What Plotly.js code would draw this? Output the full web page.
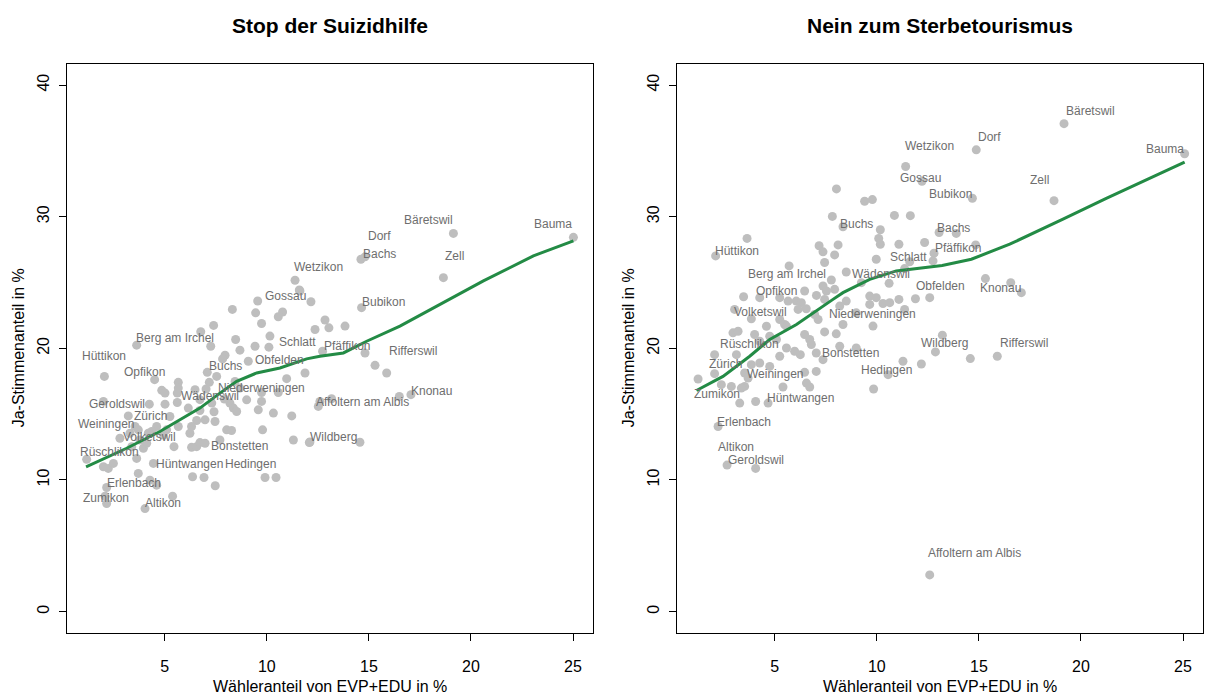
<!DOCTYPE html>
<html><head><meta charset="utf-8">
<script src="https://cdn.plot.ly/plotly-3.0.1.min.js"></script>
<style>html,body{margin:0;padding:0;background:#fff}#chart{width:1206px;height:696px}</style>
</head><body><div id="chart"></div>
<script>
const panel_titles = ["Stop der Suizidhilfe", "Nein zum Sterbetourismus"];
const x_title = "Wähleranteil von EVP+EDU in %";
const y_title = "Ja-Stimmenanteil in %";
const x_ticks = [5, 10, 15, 20, 25];
const y_ticks = [0, 10, 20, 30, 40];

// Left panel: Stop der Suizidhilfe
const left_x = [25.02,19.14,14.81,14.61,18.65,11.62,12.16,14.64,12.85,13.04,12.36,13.83,12.73,14.81,15.30,15.87,11.87,16.49,17.06,12.52,13.17,12.60,12.11,14.56,11.38,11.59,9.55,8.31,9.45,10.77,10.56,9.74,7.39,6.76,8.47,10.15,7.25,9.42,10.10,8.68,3.62,7.95,7.83,9.09,2.04,4.50,7.08,7.18,7.54,10.97,8.44,5.66,5.66,4.85,5.01,6.48,7.02,5.61,8.68,9.74,10.56,9.01,9.74,9.58,10.32,11.22,8.19,8.36,8.52,7.92,5.61,5.01,4.24,1.99,6.15,6.72,6.97,6.56,7.41,7.46,3.21,6.31,6.23,8.03,8.27,9.79,5.66,4.60,4.36,3.70,3.29,3.78,5.45,6.31,6.56,6.72,6.97,11.30,12.08,3.95,3.62,1.17,1.99,2.23,2.48,4.44,3.70,4.27,4.60,6.36,6.92,7.47,9.91,10.45,2.15,2.15,2.07,5.38,4.03,4.19,4.93,5.09,3.38,4.11,3.54,2.80,6.72,7.30,5.25,7.70];
const left_y = [28.43,28.73,26.95,26.77,25.37,24.36,23.54,23.09,22.15,21.56,21.43,21.69,19.78,19.65,18.71,18.13,18.13,16.35,16.48,15.59,16.17,15.97,12.89,12.87,25.17,24.43,23.60,22.96,22.70,22.76,22.40,21.89,21.74,21.26,20.67,20.93,20.16,20.16,20.09,19.86,20.24,19.48,19.20,19.02,17.87,17.62,18.18,17.42,17.87,17.70,17.49,17.42,16.98,16.81,16.60,16.86,16.91,16.60,16.98,16.65,16.65,16.09,15.97,15.33,15.08,14.87,15.84,15.46,15.20,16.15,15.89,15.76,15.76,15.97,15.46,15.28,14.57,14.52,15.18,14.44,14.87,14.06,13.55,13.81,13.76,13.81,14.06,14.06,13.68,13.81,13.55,13.04,12.53,12.48,12.53,12.84,12.79,13.04,12.84,12.41,11.64,11.57,11.01,10.88,11.26,11.26,10.50,9.99,9.61,10.25,10.19,9.56,10.19,10.19,9.43,8.21,8.77,8.77,7.83,13.55,13.42,13.81,12.53,12.79,14.06,13.17,16.10,15.84,14.82,13.04];
const left_names = ["Bauma","Bäretswil","Dorf","Bachs","Zell","Wetzikon","","Bubikon","","","","","Pfäffikon","","","Rifferswil","","","Knonau","Affoltern am Albis","","","Wildberg","","","","Gossau","","","","","","","","","Schlatt","","","","","Berg am Irchel","Buchs","","Obfelden","Hüttikon","Opfikon","","","Niederweningen","","","","","","","","","Wädenswil","","","","","","","","","","","","","","","Geroldswil","","","","","","","","Zürich","","","","","","","","","","","","","","","Bonstetten","","","","","","Rüschlikon","","","","Hüntwangen","","","","","","","Hedingen","","Erlenbach","Zumikon","","","Altikon","","","","","","Weiningen","Volketswil","","","",""];
const left_curve_x = [1.14,3.13,4.76,5.74,6.72,7.70,8.52,9.50,10.64,11.95,12.60,13.75,14.89,16.52,18.65,20.61,23.06,25.02];
const left_curve_y = [11.00,12.41,13.68,14.57,15.46,16.60,17.49,18.13,18.51,19.20,19.40,19.65,20.54,21.69,23.47,25.12,27.03,28.17];

// Right panel: Nein zum Sterbetourismus
const right_x = [19.17,14.87,25.08,11.41,12.21,14.68,18.68,11.64,13.05,13.89,11.08,12.34,14.84,12.80,12.75,11.61,11.36,15.32,16.56,17.08,11.89,12.59,11.36,13.21,12.87,14.58,15.90,12.18,12.59,8.02,9.40,9.78,7.82,10.86,8.34,10.17,10.09,10.17,3.64,2.10,7.17,7.36,8.10,7.93,9.97,7.44,5.70,8.50,7.77,6.46,7.36,7.53,7.93,9.24,10.60,3.47,4.26,5.24,5.65,6.05,6.30,7.04,7.44,8.50,8.18,8.99,9.65,9.97,11.08,3.03,3.85,4.59,5.24,5.48,6.14,6.54,6.95,7.12,8.34,9.81,9.65,10.30,10.63,7.44,8.01,2.95,3.20,4.01,4.26,4.75,5.08,5.57,6.46,6.71,6.79,5.57,5.97,6.25,7.03,7.36,8.18,8.99,5.24,3.12,2.05,3.85,4.26,4.75,3.52,3.69,3.52,3.36,2.38,2.87,1.24,2.05,5.40,6.46,7.03,6.55,6.71,11.28,10.55,9.84,3.28,4.06,4.67,2.22,2.66,4.06];
const right_y = [37.07,35.08,34.78,33.81,32.69,31.40,31.22,30.08,28.80,28.73,27.91,28.04,27.86,27.23,26.64,26.57,26.06,25.30,24.99,24.23,23.77,23.85,22.96,21.00,19.73,19.22,19.40,18.81,2.79,32.11,31.17,31.30,30.02,30.10,29.24,29.01,28.35,27.91,28.35,27.02,27.79,27.33,27.86,27.10,26.77,26.52,26.26,25.80,25.19,24.36,24.74,24.36,24.48,24.99,24.94,23.92,23.85,23.85,23.59,23.59,23.47,24.02,23.72,23.59,23.21,22.70,23.97,23.85,23.72,22.96,22.24,21.68,22.19,21.81,22.96,23.01,22.57,22.19,21.81,21.69,23.34,23.41,23.47,21.25,21.10,21.18,21.30,21.05,20.54,20.92,20.67,21.69,21.05,20.67,20.29,20.03,19.78,19.52,19.65,19.14,20.16,20.03,19.40,19.52,19.52,18.76,18.89,18.63,18.13,17.74,17.11,16.98,17.24,17.11,17.67,18.08,17.06,18.18,18.25,17.36,17.06,19.02,18.00,16.91,15.84,15.96,15.84,14.06,11.13,10.88];
const right_names = ["Bäretswil","Dorf","Bauma","Wetzikon","Gossau","Bubikon","Zell","","Bachs","","","","","Pfäffikon","","","","Knonau","","","Obfelden","","","Wildberg","","","Rifferswil","","Affoltern am Albis","","","","","","Buchs","","","","","Hüttikon","","","","","Schlatt","","Berg am Irchel","Wädenswil","","Opfikon","","","","","","","","","","","","","","","","","","","","Volketswil","","","","","","","","Niederweningen","","","","","","","","Rüschlikon","","","","","","","","","","","","","Bonstetten","","","","","","Zürich","","","","Weiningen","","","","","","Zumikon","","","","","","","","Hedingen","","","Hüntwangen","","Erlenbach","Altikon","Geroldswil"];
const right_curve_x = [1.16,2.46,3.77,4.75,6.06,6.87,7.85,8.34,9.65,10.95,12.26,13.20,14.63,16.51,19.12,21.24,25.08];
const right_curve_y = [16.80,17.87,19.40,20.67,21.81,22.70,23.72,24.23,25.24,25.88,26.15,26.30,26.77,27.91,29.82,31.40,34.14];

// label offsets in screen pixels from the point (style only): [right, down]
const left_label_off = {"Bauma":[-20,-13.5],"Bäretswil":[-25,-13.5],"Dorf":[14,-21],"Bachs":[18.5,-5],"Zell":[11,-21.7],"Wetzikon":[19,-24],"Gossau":[28,-4.5],"Bubikon":[21.5,-6],"Schlatt":[27.5,5.7],"Pfäffikon":[24.5,-5.6],"Rifferswil":[26,-22.3],"Knonau":[21,-3.7],"Affoltern am Albis":[44.5,-4.7],"Wildberg":[24,-5.3],"Berg am Irchel":[38.6,-7],"Hüttikon":[0,-20.7],"Opfikon":[-10.3,-7.4],"Buchs":[0,10.5],"Obfelden":[31.4,-1.3],"Niederweningen":[45,12],"Wädenswil":[33,2.6],"Geroldswil":[-32.6,0],"Zürich":[22.4,0],"Weiningen":[-29.5,-2.6],"Volketswil":[29.8,-1],"Rüschlikon":[23.3,-7.6],"Bonstetten":[40,3.4],"Hüntwangen":[36.6,0.6],"Hedingen":[-14.5,-13.5],"Erlenbach":[27,-4.5],"Zumikon":[-1,-6],"Altikon":[18,-5.6]};
const right_label_off = {"Bäretswil":[26.3,-12.8],"Dorf":[13.7,-12.7],"Bauma":[-20,-5],"Wetzikon":[24,-21],"Gossau":[-1.5,-3],"Bubikon":[-22,-4.4],"Zell":[-15,-20.8],"Bachs":[14.2,-5],"Pfäffikon":[24,-5.6],"Schlatt":[32,-2.6],"Obfelden":[25,-13],"Knonau":[15.3,9.6],"Wildberg":[2.3,7.5],"Rifferswil":[26.5,-13.6],"Affoltern am Albis":[44.3,-21.6],"Hedingen":[-1.3,-4.7],"Bonstetten":[34.5,-0.3],"Niederweningen":[54.4,-5.6],"Wädenswil":[34.5,2],"Buchs":[13.5,-2.8],"Hüttikon":[21.4,-5.3],"Berg am Irchel":[-2.4,8.3],"Opfikon":[-28,0],"Volketswil":[26,2.3],"Rüschlikon":[16.5,11.4],"Zürich":[10.4,9.6],"Weiningen":[30.7,1],"Zumikon":[19.4,14.9],"Hüntwangen":[45,-3.3],"Erlenbach":[26,-5],"Altikon":[9.2,-18.3],"Geroldswil":[0.7,-8.4]};

const FONT = "Liberation Sans, Arial, Helvetica, sans-serif";
const PT = "#bebebe", LAB = "#6e6e6e", GREEN = "#238b45";

function panelTraces(xs, ys, cx, cy, xa, ya) {
  return [
    {type: "scatter", mode: "markers", x: xs, y: ys, xaxis: xa, yaxis: ya,
     marker: {color: PT, size: 9}, hoverinfo: "skip", showlegend: false},
    {type: "scatter", mode: "lines", x: cx, y: cy, xaxis: xa, yaxis: ya,
     line: {color: GREEN, width: 3, shape: "linear"}, hoverinfo: "skip", showlegend: false}
  ];
}
function panelLabels(xs, ys, names, offMap, xa, ya) {
  const out = [];
  names.forEach((n, i) => {
    if (!n) return;
    const off = offMap[n] || [0, -12];
    out.push({x: xs[i], y: ys[i], xref: xa, yref: ya, text: n, showarrow: false,
      xanchor: "center", yanchor: "middle", xshift: off[0], yshift: -off[1],
      font: {family: FONT, size: 12, color: LAB}});
  });
  return out;
}

const data = [].concat(
  panelTraces(left_x, left_y, left_curve_x, left_curve_y, "x", "y"),
  panelTraces(right_x, right_y, right_curve_x, right_curve_y, "x2", "y2")
);

const W = 1206, H = 696;
const dL = [67 / W, 593 / W], dR = [677 / W, 1203 / W];
const dY = [(H - 632.7) / H, (H - 64) / H];

function xax(domain, anchor) {
  return {domain: domain, anchor: anchor, range: [0.207, 25.98], tickvals: x_ticks, ticktext: x_ticks.map(String),
    ticks: "outside", ticklen: 7, tickwidth: 1, tickcolor: "#000", showline: true, mirror: true,
    linecolor: "#000", linewidth: 1, showgrid: false, zeroline: false, ticklabelstandoff: 12,
    tickfont: {family: FONT, size: 16, color: "#000"}, fixedrange: true};
}
function yax(anchor) {
  return {domain: dY, anchor: anchor, range: [-1.6, 41.6], tickvals: y_ticks, ticktext: y_ticks.map(String),
    tickangle: -90, ticks: "outside", ticklen: 7, tickwidth: 1, tickcolor: "#000", showline: true, mirror: true,
    linecolor: "#000", linewidth: 1, showgrid: false, zeroline: false, ticklabelstandoff: 4,
    tickfont: {family: FONT, size: 16, color: "#000"}, fixedrange: true};
}

const cyMid = (dY[0] + dY[1]) / 2;
const annotations = [].concat(
  panelLabels(left_x, left_y, left_names, left_label_off, "x", "y"),
  panelLabels(right_x, right_y, right_names, right_label_off, "x2", "y2")
);
[[dL, 0], [dR, 1]].forEach(([d, k]) => {
  annotations.push({text: "<b>" + panel_titles[k] + "</b>", x: (d[0] + d[1]) / 2, y: (H - 26) / H,
    xref: "paper", yref: "paper", showarrow: false, xanchor: "center", yanchor: "middle",
    font: {family: FONT, size: 21, color: "#000"}});
});
[[dL, 18], [dR, 628]].forEach(([d, yx]) => {
  annotations.push({text: x_title, x: (d[0] + d[1]) / 2, y: (H - 686) / H, xref: "paper", yref: "paper",
    showarrow: false, xanchor: "center", yanchor: "middle", font: {family: FONT, size: 16, color: "#000"}});
  annotations.push({text: y_title, x: yx / W, y: cyMid, xref: "paper", yref: "paper", textangle: -90,
    showarrow: false, xanchor: "center", yanchor: "middle", font: {family: FONT, size: 16, color: "#000"}});
});

const layout = {
  width: W, height: H, autosize: false, margin: {l: 0, r: 0, t: 0, b: 0},
  paper_bgcolor: "#fff", plot_bgcolor: "#fff", showlegend: false,
  xaxis: xax(dL, "y"), yaxis: yax("x"), xaxis2: xax(dR, "y2"), yaxis2: yax("x2"),
  annotations: annotations, hovermode: false
};

Plotly.newPlot("chart", data, layout, {staticPlot: true, displayModeBar: false});
</script>
</body></html>
